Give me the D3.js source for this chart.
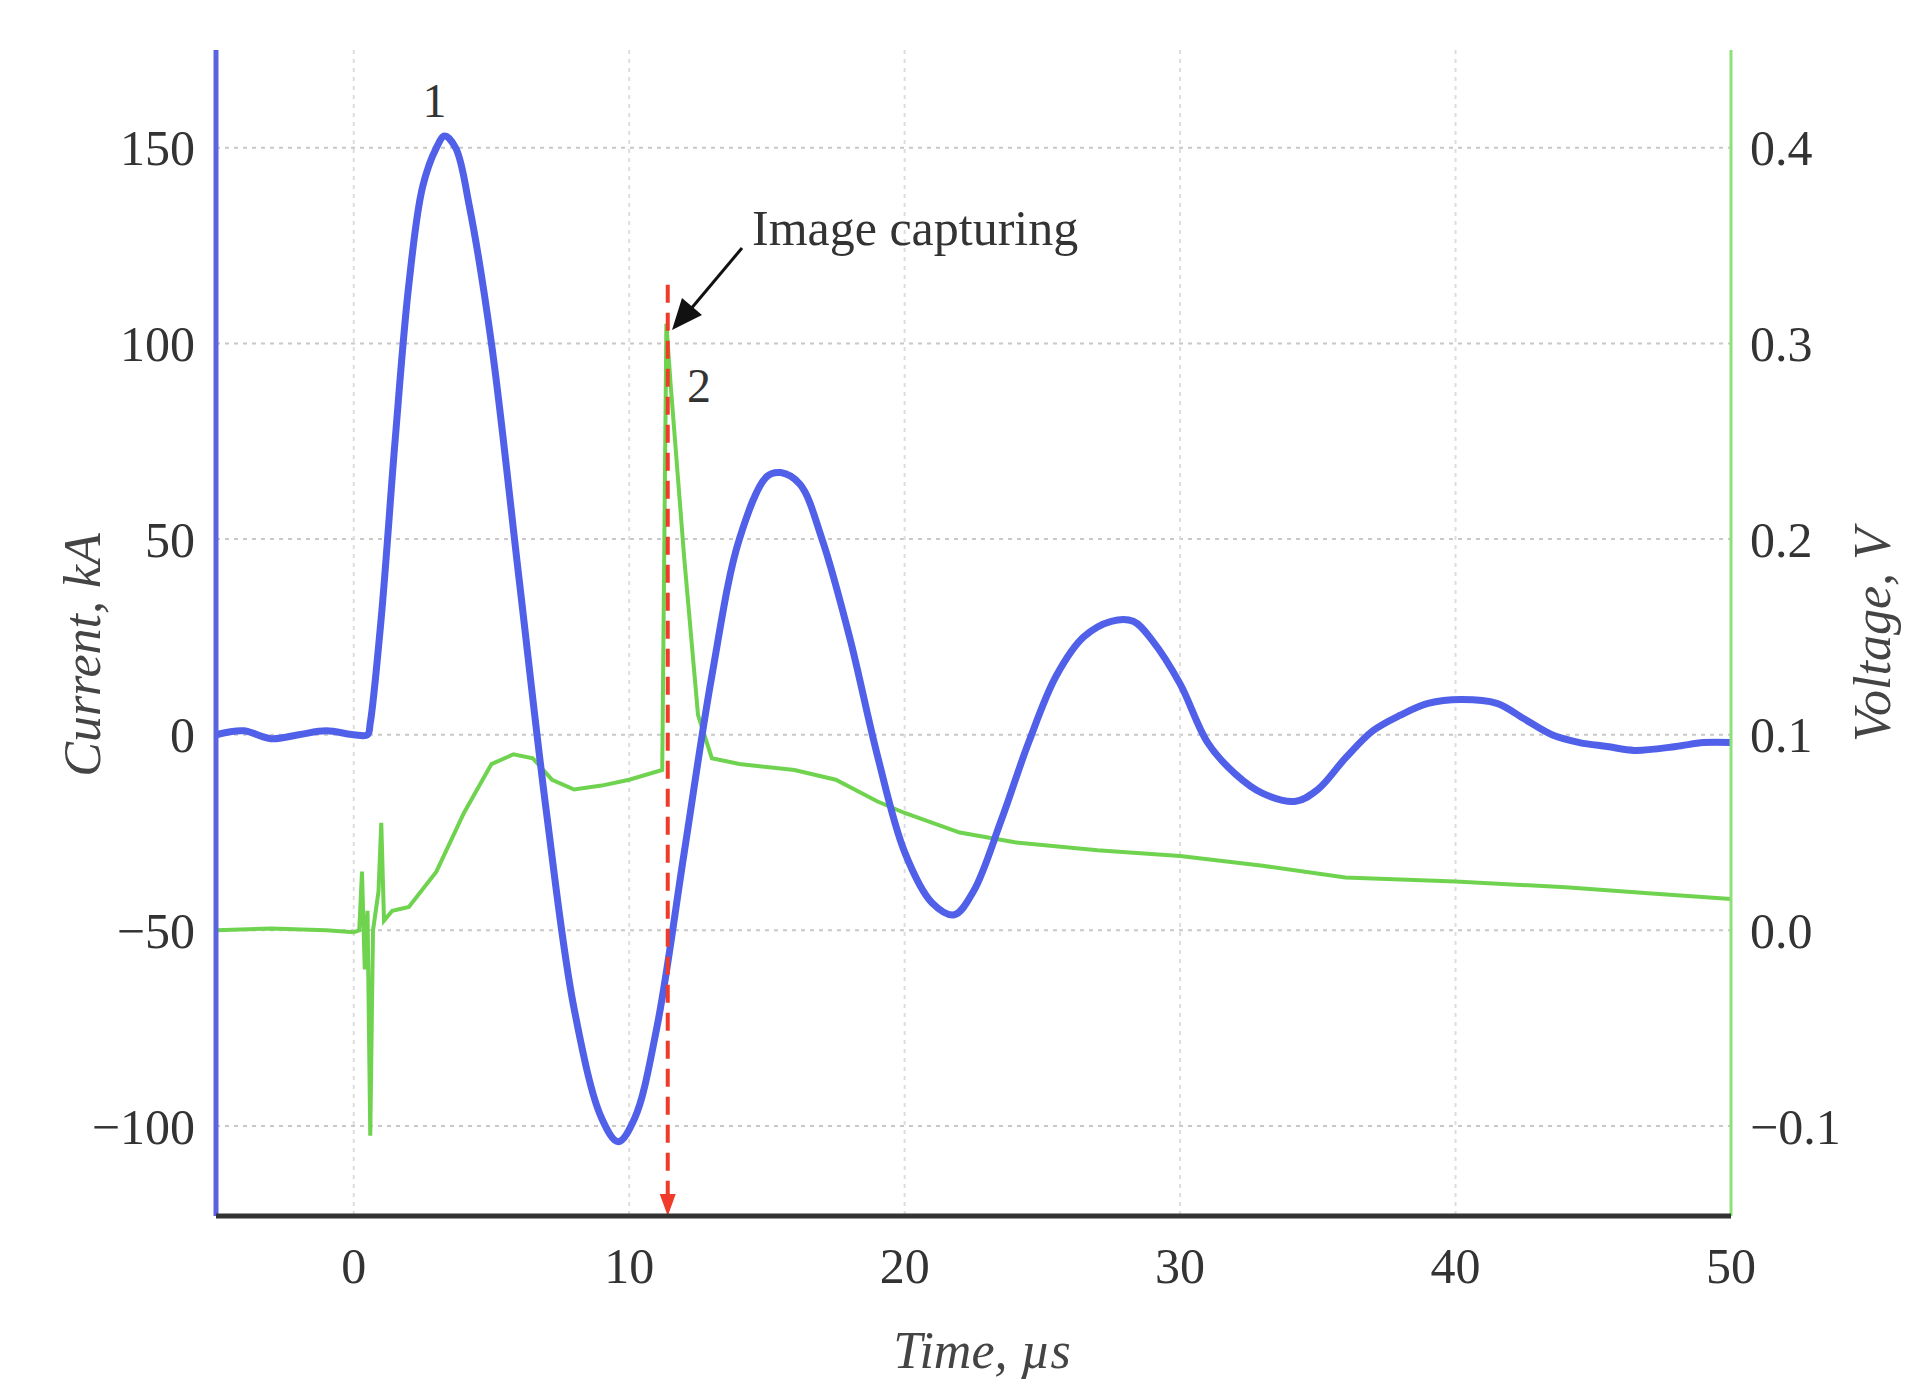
<!DOCTYPE html>
<html>
<head>
<meta charset="utf-8">
<script src="https://cdn.jsdelivr.net/npm/d3@7"></script>
<style>
  body { margin: 0; background: #fff; }
  text { font-family: "Liberation Serif", "DejaVu Serif", serif; }
</style>
</head>
<body>
<div id="svgContainer"></div>
<script>
// current trace, kA
const currentT = [-5,-4,-3,-2,-1,0,0.5,0.6,1,1.5,2,2.5,3,3.3,3.7,4.2,5,6,7,8,9,9.6,10.2,11,12,13,14,15,15.5,16.2,17,18,19,20,21,21.8,22.5,23.5,24.5,25.5,26.5,27.5,28.3,29,30,31,32,33,34.2,35,36,37,38,39,40.2,41.5,42.5,43.5,44.5,45.5,46.5,48,49,50];
const currentI = [0,1,-1,0,1,0,0,3,30,75,115,140,150,153,150,135,100,40,-20,-70,-98,-104,-98,-75,-30,15,50,66,67,64,50,25,-5,-30,-43,-46,-40,-22,-2,15,25,29,29,24,13,-2,-10,-15,-17,-14,-6,1,5,8,9,8,4,0,-2,-3,-4,-3,-2,-2];

// voltage trace, V
const voltT = [-5,-3,-1,0,0.2,0.3,0.4,0.5,0.6,0.7,0.9,1.0,1.1,1.4,2,3,4,5,5.8,6.5,7.2,8,9,10,11.2,11.35,11.5,12,12.5,13,14,16,17.5,19,20,22,24,27,30,33,36,40,44,47,50];
const voltV = [0.0,0.001,0.0,-0.001,0.0,0.03,-0.02,0.01,-0.105,0.0,0.02,0.055,0.005,0.01,0.012,0.03,0.06,0.085,0.09,0.088,0.077,0.072,0.074,0.077,0.082,0.31,0.28,0.19,0.11,0.088,0.085,0.082,0.077,0.066,0.06,0.05,0.045,0.041,0.038,0.033,0.027,0.025,0.022,0.019,0.016];

const xTicks = [0,10,20,30,40,50];
const iTicks = [-100,-50,0,50,100,150];
const vTicks = [-0.1,0.0,0.1,0.2,0.3,0.4];
const captureT = 11.4;

const width = 1922, height = 1397;
const m = {left: 216, right: 1731, top: 50, bottom: 1216};

const svg = d3.select("#svgContainer").append("svg")
    .attr("width", width).attr("height", height);

const x = d3.scaleLinear().domain([-5, 50]).range([m.left, m.right]);
const yI = d3.scaleLinear().domain([-123, 175]).range([m.bottom, m.top]);
const yV = d3.scaleLinear().domain([(-123 + 50) / 500, (175 + 50) / 500]).range([m.bottom, m.top]);

// grid
svg.append("g").selectAll("line").data(iTicks).join("line")
    .attr("x1", m.left).attr("x2", m.right)
    .attr("y1", d => yI(d)).attr("y2", d => yI(d))
    .attr("stroke", "#c8c8c8").attr("stroke-width", 2).attr("stroke-dasharray", "4,5");
svg.append("g").selectAll("line").data(xTicks.slice(0, -1)).join("line")
    .attr("x1", d => x(d)).attr("x2", d => x(d))
    .attr("y1", m.top).attr("y2", m.bottom)
    .attr("stroke", "#dddddd").attr("stroke-width", 2).attr("stroke-dasharray", "4,5");

// traces
const lineI = d3.line().x(d => x(d[0])).y(d => yI(d[1])).curve(d3.curveCatmullRom);
const lineV = d3.line().x(d => x(d[0])).y(d => yV(d[1]));

svg.append("path").datum(voltT.map((t, i) => [t, voltV[i]]))
    .attr("d", lineV).attr("fill", "none")
    .attr("stroke", "#6fd34f").attr("stroke-width", 4);

svg.append("path").datum(currentT.map((t, i) => [t, currentI[i]]))
    .attr("d", lineI).attr("fill", "none")
    .attr("stroke", "#5060e8").attr("stroke-width", 7);

// capture marker
svg.append("line")
    .attr("x1", x(captureT)).attr("x2", x(captureT))
    .attr("y1", yV(0.33)).attr("y2", m.bottom - 18)
    .attr("stroke", "#f03a2a").attr("stroke-width", 4).attr("stroke-dasharray", "18,10");
svg.append("path")
    .attr("d", `M${x(captureT) - 8},${m.bottom - 22} L${x(captureT) + 8},${m.bottom - 22} L${x(captureT)},${m.bottom} Z`)
    .attr("fill", "#f03a2a");

// axes lines
svg.append("line").attr("x1", m.left).attr("x2", m.left).attr("y1", m.top).attr("y2", m.bottom)
    .attr("stroke", "#5b63e0").attr("stroke-width", 5);
svg.append("line").attr("x1", m.right).attr("x2", m.right).attr("y1", m.top).attr("y2", m.bottom)
    .attr("stroke", "#8ee07a").attr("stroke-width", 3);
svg.append("line").attr("x1", m.left).attr("x2", m.right).attr("y1", m.bottom).attr("y2", m.bottom)
    .attr("stroke", "#333").attr("stroke-width", 5);

// tick labels
const fmtI = d => d < 0 ? "\u2212" + Math.abs(d) : d;
svg.append("g").selectAll("text").data(iTicks).join("text")
    .attr("x", 195).attr("y", d => yI(d)).attr("dy", "0.35em")
    .attr("text-anchor", "end").attr("font-size", 50).attr("fill", "#333")
    .text(fmtI);
svg.append("g").selectAll("text").data(vTicks).join("text")
    .attr("x", 1750).attr("y", d => yV(d)).attr("dy", "0.35em")
    .attr("font-size", 50).attr("fill", "#333")
    .text(d => (d < 0 ? "\u2212" : "") + Math.abs(d).toFixed(1));
svg.append("g").selectAll("text").data(xTicks).join("text")
    .attr("x", d => x(d)).attr("y", 1265).attr("dy", "0.35em")
    .attr("text-anchor", "middle").attr("font-size", 50).attr("fill", "#333")
    .text(d => d);

// axis titles
svg.append("text").attr("x", 982).attr("y", 1368)
    .attr("text-anchor", "middle").attr("font-size", 52).attr("font-style", "italic").attr("fill", "#444")
    .text("Time, \u00b5s");
svg.append("text").attr("transform", "translate(100,655) rotate(-90)")
    .attr("text-anchor", "middle").attr("font-size", 52).attr("font-style", "italic").attr("fill", "#444")
    .text("Current, kA");
svg.append("text").attr("transform", "translate(1890,635) rotate(-90)")
    .attr("text-anchor", "middle").attr("font-size", 52).attr("font-style", "italic").attr("fill", "#444")
    .text("Voltage, V");

// annotations
svg.append("text").attr("x", x(2.5)).attr("y", yI(158)).attr("font-size", 48).attr("fill", "#333").text("1");
svg.append("text").attr("x", x(12.1)).attr("y", yV(0.27)).attr("font-size", 48).attr("fill", "#333").text("2");
svg.append("text").attr("x", 752).attr("y", 245).attr("font-size", 50).attr("fill", "#333").text("Image capturing");
svg.append("line").attr("x1", 742).attr("y1", 248).attr("x2", 690).attr("y2", 310)
    .attr("stroke", "#111").attr("stroke-width", 3);
svg.append("path").attr("d", "M672,330 L682,298 L702,315 Z").attr("fill", "#111");
</script>
</body>
</html>
